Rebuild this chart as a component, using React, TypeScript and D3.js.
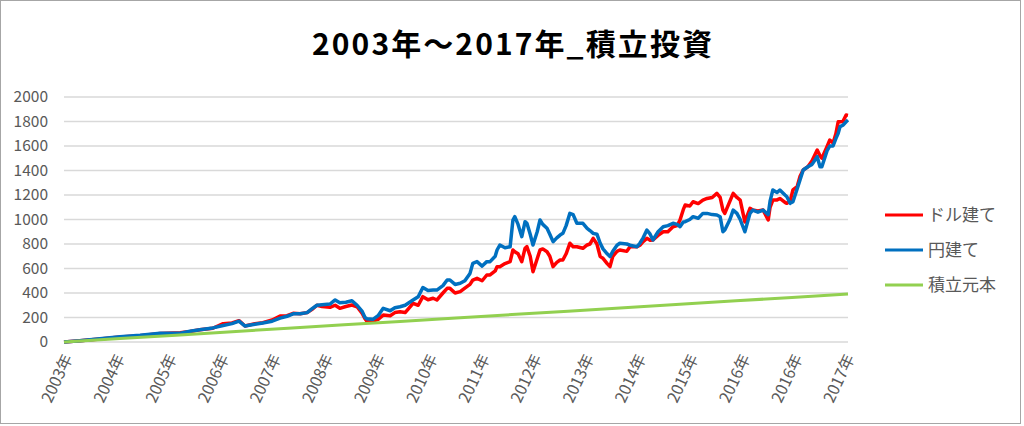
import React from "react";
import * as d3 from "d3";

const months = [0,3.4,7.7,12,16.3,20.6,24.9,27,29.1,31.9,34.1,36,37.5,38.8,40.9,42.6,44.6,46.3,47.8,49.1,50.6,52.1,53.1,54.2,55.3,57,58.1,59.1,60.4,61.7,62.8,63.9,64.5,64.9,66.2,67.3,68.4,69.9,70.9,72,73.1,74.8,75.9,76.9,78,79.1,79.9,81.2,82.1,82.7,83.8,84.9,85.9,87,87.6,88.5,89.6,90.6,91.3,92.4,92.8,93.4,94.5,95.6,96.2,96.6,97.3,98.1,98.8,99.2,99.9,100.5,101.4,102,102.6,103.5,104.1,104.8,105.6,106.3,106.9,107.6,108.4,109.1,109.9,111.2,112.1,112.7,113.4,114.2,114.9,115.5,116.4,117,117.6,118.5,119.1,120.6,121.3,122.8,123.4,124.1,124.9,125.6,126.2,127.3,128.4,129.4,130.5,131.4,132,132.7,133.1,134.1,134.8,135.9,136.9,137.8,138.9,139.9,140.6,141.2,141.6,142.7,143.4,144.2,144.9,145.9,147,147.6,148.7,149.8,150.9,151.3,151.9,152.8,153.4,154.5,154.9,155.6,156.2,157.1,157.7,158.4,159.4,160.3,161.4,162,162.4,163.5,164.1,164.8,165.4,165.9,166.3,166.9,167.6,168];

const dollarValues = [0,10,25,40,52,70,75,85,100,112,150,155,174,131,150,158,180,212,215,234,230,240,265,300,290,283,300,275,290,302,288,234,190,170,170,185,220,215,240,247,240,316,300,370,345,357,343,400,438,438,400,411,440,470,506,520,500,547,547,580,615,615,640,656,751,737,720,656,765,778,700,574,680,751,760,737,700,615,650,669,669,720,806,778,778,765,792,800,846,800,697,683,640,615,700,740,751,740,778,778,790,820,846,830,833,870,900,900,941,950,996,1080,1118,1110,1145,1130,1159,1172,1180,1213,1180,1077,1050,1150,1213,1180,1159,980,1091,1077,1070,1077,996,1100,1159,1160,1172,1140,1132,1150,1241,1268,1350,1404,1431,1480,1567,1520,1500,1595,1649,1624,1700,1798,1798,1800,1853,1850];

const yenValues = [0,10,27,42,55,72,72,88,100,115,135,150,170,130,145,155,170,195,210,230,230,240,270,300,305,310,343,320,325,337,300,250,200,190,185,215,275,255,280,288,300,343,370,445,420,424,424,460,506,506,470,479,500,560,642,656,620,656,656,700,751,792,770,778,996,1023,960,860,982,969,880,792,900,996,960,928,880,819,850,873,887,950,1050,1040,969,969,928,910,887,880,806,760,720,697,740,790,806,800,790,778,806,850,914,880,833,900,941,950,969,960,941,980,982,1000,1023,1010,1050,1050,1040,1037,1023,900,914,1000,1077,1050,1000,900,1050,1077,1060,1077,1040,1150,1241,1220,1241,1200,1186,1132,1145,1250,1320,1404,1431,1450,1513,1431,1431,1560,1600,1600,1660,1703,1758,1770,1798,1812];

const principalMonths = [0,12,24,36,48,60,72,84,96,108,120,132,144,156,168];
const principalValues = [0,28,56,84,112,140,168,196,224,252,280,308,336,364,392];

const xTickLabels = ["2003年","2004年","2005年","2006年","2007年","2008年","2009年","2010年","2011年","2012年","2013年","2014年","2015年","2016年","2016年","2017年"];
const yTicks = [0,200,400,600,800,1000,1200,1400,1600,1800,2000];

const seriesNames = ["ドル建て","円建て","積立元本"];
const seriesColors = ["#ff0000","#0070c0","#92d050"];

export default function App() {
  const W = 1024, H = 426;
  const left = 64, right = 848, top = 97, bottom = 342;
  const x = d3.scaleLinear().domain([0, 168]).range([left, right]);
  const y = d3.scaleLinear().domain([0, 2000]).range([bottom, top]);
  const xl = d3.scalePoint<number>().domain(d3.range(xTickLabels.length)).range([64, 846]);
  const line = d3.line<[number, number]>().x(d => x(d[0])).y(d => y(d[1]));
  const red = line(months.map((m, i) => [m, dollarValues[i]]));
  const blue = line(months.map((m, i) => [m, yenValues[i]]));
  const green = line(principalMonths.map((m, i) => [m, principalValues[i]]));
  const font = "'Noto Sans CJK JP', 'Noto Sans', sans-serif";
  const legendY = [215, 250, 285];
  return (
    <div style={{ position: "fixed", left: 0, top: 0 }}>
      <svg width={W} height={H} style={{ display: "block", background: "#fff" }}>
        <rect x={0.5} y={0.5} width={1020} height={423} fill="#fff" stroke="#a6a6a6" />
        <text x={512} y={55} textAnchor="middle" fontFamily={font} fontWeight="bold" fontSize={30} textLength={400} lengthAdjust="spacing" fill="#000">2003年～2017年_積立投資</text>
        {yTicks.map(t => (
          <g key={t}>
            <line x1={left} x2={right} y1={y(t)} y2={y(t)} stroke="#d9d9d9" strokeWidth={1.3} />
            <text x={48} y={y(t)} dy="0.35em" textAnchor="end" fontFamily={font} fontSize={15.5} fill="#595959">{t}</text>
          </g>
        ))}
        {xTickLabels.map((l, i) => (
          <text key={i} transform={`translate(${(xl(i) as number) + 4},355) rotate(-65)`} textAnchor="end" dy="0.35em" fontFamily={font} fontSize={16} fill="#595959">{l}</text>
        ))}
        <path d={red ?? ""} fill="none" stroke={seriesColors[0]} strokeWidth={3.5} strokeLinejoin="round" />
        <path d={blue ?? ""} fill="none" stroke={seriesColors[1]} strokeWidth={3.5} strokeLinejoin="round" />
        <path d={green ?? ""} fill="none" stroke={seriesColors[2]} strokeWidth={3} />
        {seriesNames.map((n, i) => (
          <g key={n}>
            <line x1={885} x2={923} y1={legendY[i]} y2={legendY[i]} stroke={seriesColors[i]} strokeWidth={3} />
            <text x={928} y={legendY[i]} dy="0.35em" fontFamily={font} fontSize={17} fill="#595959">{n}</text>
          </g>
        ))}
      </svg>
    </div>
  );
}
